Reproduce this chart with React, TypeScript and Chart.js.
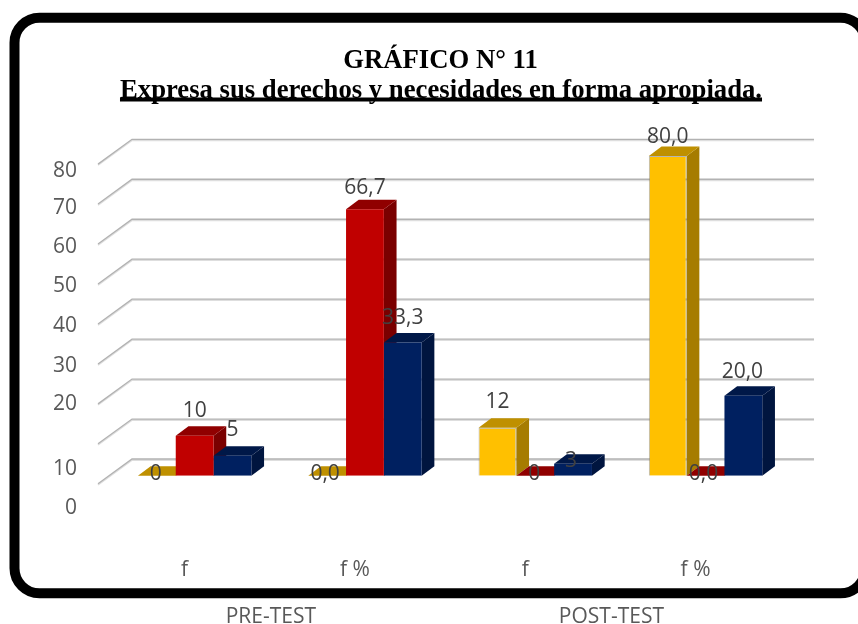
import React, { useEffect, useRef } from "react";
import { Chart, registerables } from "chart.js";

Chart.register(...registerables);

const categories = ["f", "f %", "f", "f %"];
const groupLabels = ["PRE-TEST", "POST-TEST"];
const seriesAmber = [0, 0, 12, 80];
const seriesRed = [10, 66.7, 0, 0];
const seriesNavy = [5, 33.3, 3, 20];
const labelsAmber = ["0", "0,0", "12", "80,0"];
const labelsRed = ["10", "66,7", "0", "0,0"];
const labelsNavy = ["5", "33,3", "3", "20,0"];
const yTicks = [0, 10, 20, 30, 40, 50, 60, 70, 80];
const titleLine1 = "GRÁFICO N° 11";
const titleLine2 = "Expresa sus derechos y necesidades en forma apropiada.";

// Layout tweaks (pixel nudges relative to each mark)
const yLabelNudge: Record<number, number> = { 80: 14, 70: 10.7, 60: 9.7, 50: 9, 40: 9, 30: 8.5, 20: 7, 10: 31.7, 0: 30.5 };
const nudges = [
  [[-1, -3], [-2, -3], [0, -27], [0, -20]],
  [[0, -26], [0, -23], [-1, -3], [-2, -3]],
  [[0, -27], [0, -26], [-2, -4], [-1, -25]],
];
const faces = [
  { front: "#FFC000", top: "#BF9000", side: "#A67C00" },
  { front: "#C00000", top: "#900000", side: "#7A0000" },
  { front: "#002060", top: "#001848", side: "#00153F" },
];
const allLabels = [labelsAmber, labelsRed, labelsNavy];
const BAR_DX = 12.7;
const BAR_DY = 9.5;
const FONT = '"Open Sans", sans-serif';
const TEXT_DROP = 1.5;

function poly(ctx: CanvasRenderingContext2D, pts: number[][], fill: string) {
  ctx.beginPath();
  pts.forEach((p, i) => (i ? ctx.lineTo(p[0], p[1]) : ctx.moveTo(p[0], p[1])));
  ctx.closePath();
  ctx.fillStyle = fill;
  ctx.fill();
}

const chrome = {
  id: "chrome",
  beforeDraw(chart: any) {
    const ctx: CanvasRenderingContext2D = chart.ctx;
    ctx.save();
    // frame
    ctx.lineWidth = 10;
    ctx.strokeStyle = "#000";
    ctx.beginPath();
    ctx.roundRect(14.5, 17.7, 851, 575.6, 25);
    ctx.stroke();
    // title
    ctx.fillStyle = "#000";
    ctx.textAlign = "center";
    ctx.textBaseline = "alphabetic";
    ctx.font = 'bold 26.7px "Liberation Serif", serif';
    ctx.fillText(titleLine1, 440.5, 68);
    ctx.fillText(titleLine2, 441, 98);
    const w = ctx.measureText(titleLine2).width;
    ctx.fillRect(441 - w / 2, 97.5, w, 4);
    // walls and grid
    const y = chart.scales.y;
    const { left, right } = chart.chartArea;
    y.ticks.forEach((t: any) => {
      const p = y.getPixelForValue(t.value);
      const backY = p - 16.5;
      const pts: number[][] = [[left - 11.5, p + 8.3], [left + 22.5, backY], [right + 23.3, backY]];
      [[0.9, "#DEDEDE", 1.6], [-0.2, "#B2B2B2", 1.3]].forEach(([off, col, lw]: any) => {
        ctx.beginPath();
        ctx.moveTo(pts[0][0], pts[0][1] + off);
        ctx.lineTo(pts[1][0], pts[1][1] + off);
        ctx.lineTo(pts[2][0], pts[2][1] + off);
        ctx.strokeStyle = col;
        ctx.lineWidth = lw;
        ctx.stroke();
      });
    });
    // y axis labels
    ctx.font = `21px ${FONT}`;
    ctx.fillStyle = "#595959";
    ctx.textAlign = "right";
    ctx.textBaseline = "middle";
    y.ticks.forEach((t: any) => {
      ctx.fillText(String(t.value), 77, y.getPixelForValue(t.value) + yLabelNudge[t.value] + TEXT_DROP);
    });
    // group labels
    const x = chart.scales.x;
    ctx.textAlign = "center";
    groupLabels.forEach((g, i) => {
      const a = x.getPixelForValue(i * 2);
      const b = x.getPixelForValue(i * 2 + 1);
      ctx.fillText(g, (a + b) / 2 - 9, 617);
    });
    ctx.restore();
  },
  beforeDatasetsDraw(chart: any) {
    const ctx: CanvasRenderingContext2D = chart.ctx;
    ctx.save();
    faces.forEach((f, d) => {
      chart.getDatasetMeta(d).data.forEach((el: any) => {
        const l = el.x - el.width / 2;
        const r = el.x + el.width / 2;
        const t = el.y;
        const b = el.base;
        poly(ctx, [[r, t], [r + BAR_DX, t - BAR_DY], [r + BAR_DX, b - BAR_DY], [r, b]], f.side);
        poly(ctx, [[l, t], [l + BAR_DX, t - BAR_DY], [r + BAR_DX, t - BAR_DY], [r, t]], f.top);
      });
    });
    ctx.restore();
  },
  afterDatasetsDraw(chart: any) {
    const ctx: CanvasRenderingContext2D = chart.ctx;
    ctx.save();
    ctx.font = `21px ${FONT}`;
    ctx.fillStyle = "#404040";
    ctx.textAlign = "center";
    ctx.textBaseline = "middle";
    allLabels.forEach((labels, d) => {
      const meta = chart.getDatasetMeta(d);
      labels.forEach((txt, i) => {
        const el = meta.data[i];
        ctx.fillText(txt, el.x + nudges[d][i][0], el.y + nudges[d][i][1] + TEXT_DROP);
      });
    });
    ctx.restore();
  },
};

export default function App() {
  const ref = useRef<HTMLCanvasElement>(null);
  useEffect(() => {
    const edge = "rgba(120,120,120,0.55)";
    const chart = new Chart(ref.current as HTMLCanvasElement, {
      type: "bar",
      data: {
        labels: categories,
        datasets: [
          { label: "A", data: seriesAmber, backgroundColor: faces[0].front, borderColor: edge, borderWidth: 1 },
          { label: "B", data: seriesRed, backgroundColor: faces[1].front, borderColor: edge, borderWidth: 0 },
          { label: "C", data: seriesNavy, backgroundColor: faces[2].front, borderColor: edge, borderWidth: 0 },
        ],
      },
      options: {
        animation: false,
        responsive: false,
        devicePixelRatio: 1,
        categoryPercentage: 0.666,
        barPercentage: 1,
        layout: { padding: { top: 156, right: 67.3, left: 0, bottom: 0 } },
        plugins: { legend: { display: false }, tooltip: { enabled: false }, title: { display: false } },
        scales: {
          x: {
            grid: { display: false },
            border: { display: false },
            ticks: {
              autoSkip: false,
              maxRotation: 0,
              padding: 73.5,
              labelOffset: -10,
              color: "#595959",
              font: { family: FONT, size: 21 },
            },
            afterFit(s: any) { s.height = 148.3; },
          },
          y: {
            min: 0,
            max: 80,
            afterBuildTicks(s: any) { s.ticks = yTicks.map((value) => ({ value })); },
            grid: { display: false },
            border: { display: false },
            ticks: { display: false },
            afterFit(s: any) { s.width = 109.5; },
          },
        },
      } as any,
      plugins: [chrome],
    });
    return () => chart.destroy();
  }, []);
  return (
    <div style={{ position: "fixed", left: 0, top: 0, width: 858, height: 624, background: "#fff", overflow: "hidden" }}>
      <canvas ref={ref} width={858} height={624} style={{ display: "block" }} />
    </div>
  );
}
